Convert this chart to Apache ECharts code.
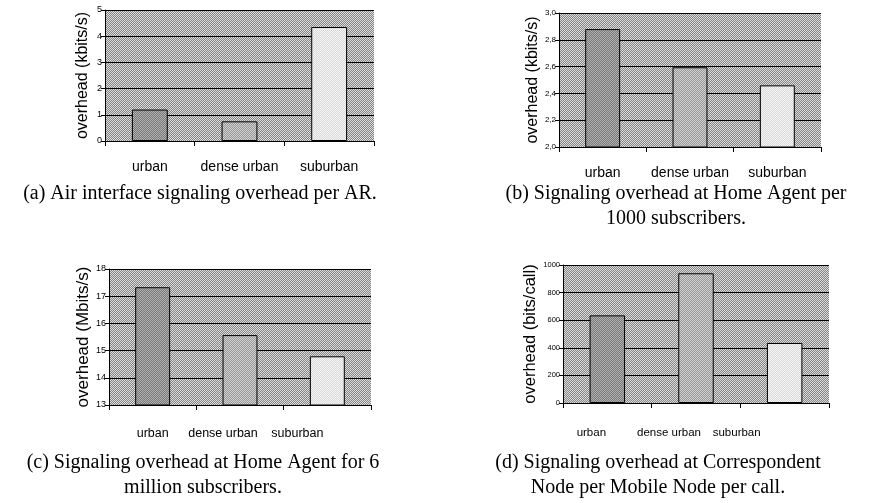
<!DOCTYPE html>
<html>
<head>
<meta charset="utf-8">
<script src="https://cdn.jsdelivr.net/npm/echarts@6/dist/echarts.min.js"></script>
<style>html,body{margin:0;padding:0;background:#fff}#c{width:875px;height:503px}</style>
</head>
<body>
<div id="c"></div>
<script>
// ---- data ----
const categories = ['urban', 'dense urban', 'suburban'];
const airOverhead = [1.2, 0.75, 4.35];          // (a) kbits/s
const haOverhead1000 = [2.88, 2.595, 2.46];      // (b) kbits/s
const haOverhead6M = [17.33, 15.57, 14.79];      // (c) Mbits/s
const cnOverhead = [635, 940, 435];              // (d) bits/call
const yNames = ['overhead (kbits/s)', 'overhead (kbits/s)', 'overhead (Mbits/s)', 'overhead (bits/call)'];
const captions = [
  ['(a) Air interface signaling overhead per AR.'],
  ['(b) Signaling overhead at Home Agent per', '1000 subscribers.'],
  ['(c) Signaling overhead at Home Agent for 6', 'million subscribers.'],
  ['(d) Signaling overhead at Correspondent', 'Node per Mobile Node per call.']
];

function checker(a, b) {
  const c = document.createElement('canvas');
  c.width = 2; c.height = 2;
  const ctx = c.getContext('2d');
  ctx.fillStyle = a; ctx.fillRect(0, 0, 2, 2);
  ctx.fillStyle = b; ctx.fillRect(0, 0, 1, 1); ctx.fillRect(1, 1, 1, 1);
  return { image: c, repeat: 'repeat' };
}
const bgPat = checker('#858585', '#dcdcdc');
const barPats = [checker('#7a7a7a', '#b0b0b0'), checker('#999999', '#d0d0d0'), checker('#d8d8d8', '#f6f6f6')];

const grids = [
  { left: 105, top: 10, width: 269, height: 131 },
  { left: 559, top: 13, width: 262, height: 134 },
  { left: 109, top: 269, width: 262, height: 136 },
  { left: 563, top: 265, width: 266, height: 138 }
];
const yCfg = [
  { min: 0, max: 5, interval: 1, fs: 9, gap: 14, nfs: 16, fmt: v => String(v) },
  { min: 2, max: 3, interval: 0.2, fs: 8, gap: 18, nfs: 16, fmt: v => v.toFixed(1).replace('.', ',') },
  { min: 13, max: 18, interval: 1, fs: 9, gap: 15, nfs: 17, fmt: v => String(v) },
  { min: 0, max: 1000, interval: 200, fs: 7.5, gap: 22, nfs: 16.5, fmt: v => String(v) }
];
// x label style per chart: font, size, margin, left-shift padding per category
const xLab = [
  { ff: '"Liberation Sans"', fs: 14, margin: 19, pad: [0, 0, 0] },
  { ff: '"Liberation Sans"', fs: 14, margin: 19, pad: [0, 0, 0] },
  { ff: '"Liberation Sans Narrow", "Liberation Sans"', fs: 12.5, margin: 22, pad: [0, 34, 60] },
  { ff: '"Liberation Sans"', fs: 11.5, margin: 24, pad: [32, 54, 96] }
];
const seriesData = [airOverhead, haOverhead1000, haOverhead6M, cnOverhead];
const capPos = [[200, 181], [676, 181], [203, 450], [658, 450]];

const option = {
  backgroundColor: '#fff',
  animation: false,
  grid: grids.map(g => Object.assign({ show: true, backgroundColor: bgPat, borderWidth: 0 }, g)),
  xAxis: grids.map((g, i) => {
    const L = xLab[i];
    const rich = {};
    L.pad.forEach((p, k) => { rich['s' + k] = { fontFamily: L.ff, fontSize: L.fs, color: '#000', padding: [0, p, 0, 0] }; });
    return {
      type: 'category', gridIndex: i, data: categories,
      axisLine: { lineStyle: { color: '#000', width: 1 } },
      axisTick: { show: true, length: 5, lineStyle: { color: '#000' } },
      axisLabel: {
        color: '#000', fontFamily: L.ff, fontSize: L.fs, margin: L.margin, interval: 0, hideOverlap: false,
        formatter: (v, idx) => '{s' + idx + '|' + v + '}', rich: rich
      },
      splitLine: { show: false }
    };
  }),
  yAxis: yCfg.map((c, i) => ({
    type: 'value', gridIndex: i, min: c.min, max: c.max, interval: c.interval,
    name: yNames[i], nameLocation: 'middle', nameGap: c.gap,
    nameTextStyle: { color: '#000', fontFamily: 'Liberation Sans', fontSize: c.nfs },
    axisLine: { show: true, lineStyle: { color: '#000', width: 1 } },
    axisTick: { show: true, length: 4, lineStyle: { color: '#000' } },
    axisLabel: { color: '#000', fontFamily: 'Liberation Sans', fontSize: c.fs, margin: 3, formatter: c.fmt },
    splitLine: { show: true, lineStyle: { color: '#000', width: 1.2 } }
  })),
  series: seriesData.map((d, i) => ({
    type: 'bar', xAxisIndex: i, yAxisIndex: i, barWidth: '40%',
    data: d.map((v, k) => ({ value: v, itemStyle: { color: barPats[k] } })),
    itemStyle: { borderColor: '#000', borderWidth: 1 }
  })),
  graphic: captions.map((c, i) => ({
    type: 'text', x: capPos[i][0], y: capPos[i][1],
    style: { text: c.join('\n'), font: '20px "Liberation Serif"', fill: '#000', align: 'center', verticalAlign: 'top', lineHeight: 25 }
  }))
};
const chart = echarts.init(document.getElementById('c'), null, { renderer: 'canvas' });
chart.setOption(option);
</script>
</body>
</html>
